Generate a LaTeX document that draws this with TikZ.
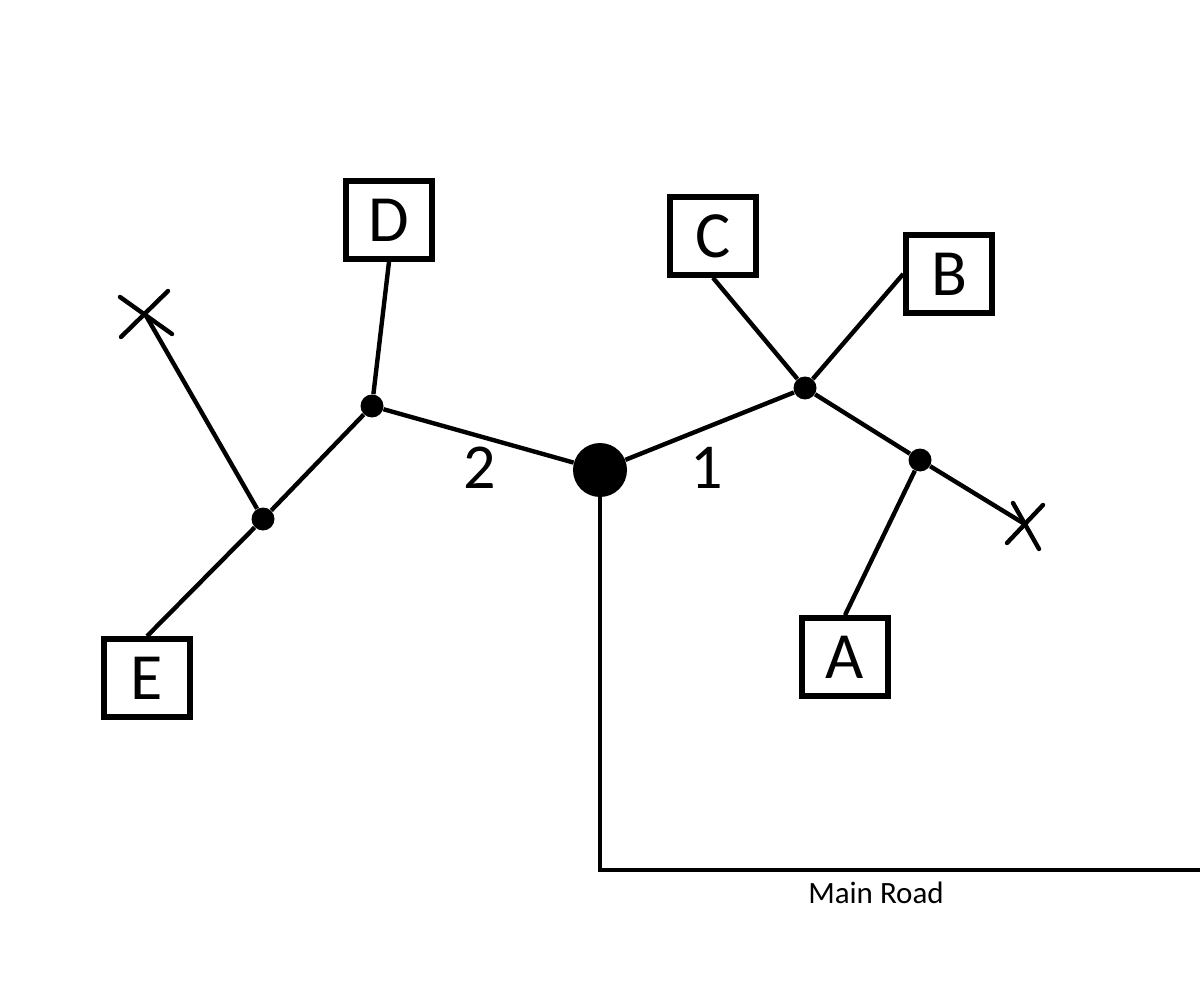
\documentclass[tikz,border=0pt]{standalone}
\usepackage{fontspec}
\setmainfont{Carlito}
\begin{document}
\begin{tikzpicture}[x=0.5pt,y=-0.5pt,
  road/.style={line width=2.2pt},
  box/.style={draw,line width=2.8pt,minimum width=43pt,minimum height=39pt,inner sep=0pt,font=\fontsize{33}{38}\selectfont},
  junction/.style={circle,fill=black,inner sep=0pt,minimum size=11.5pt},
  hub/.style={circle,fill=black,inner sep=0pt,minimum size=27pt},
  numlabel/.style={font=\fontsize{32}{36}\selectfont},
  xmark/.style={line width=2.2pt,line cap=round}]
\useasboundingbox (0,0) rectangle (1200,1000);
% nodes
\node[hub] (hub) at (600,470) {};
\node[junction] (j1) at (805,388) {};
\node[junction] (j2) at (920,460) {};
\node[junction] (j3) at (372,406) {};
\node[junction] (j4) at (263,519) {};
\node[box] (C) at (713,236) {C};
\node[box] (B) at (949,274) {B};
\node[box] (D) at (389,220) {D};
\node[box] (E) at (147,678) {E};
\node[box] (A) at (845,657) {A};
\coordinate (x1) at (145,314);
\coordinate (x2) at (1023,523);
\coordinate (corner) at (600,870);
\coordinate (roadend) at (1200,870);
% connectors
\draw[road] (hub) -- (j1);
\draw[road] (j1) -- (C.south);
\draw[road] (j1) -- (B.west);
\draw[road] (j1) -- (j2) -- (x2);
\draw[road] (j2) -- (A.north);
\draw[road] (hub) -- (j3);
\draw[road] (j3) -- (D.south);
\draw[road] (j3) -- (j4) -- (E.north);
\draw[road] (j4) -- (x1);
\draw[road] (hub.south) -- (corner) -- (roadend);
% X marks
\draw[xmark] (120,297) -- (172,334);
\draw[xmark] (121,337) -- (168,291);
\draw[xmark] (1013,503) -- (1039,549);
\draw[xmark] (1007,543) -- (1043,505);
% labels
\node[numlabel] (l1) at (707,468) {1};
\node[numlabel] (l2) at (480,468) {2};
\node[font=\fontsize{15.5}{18}\selectfont] (mr) at (876,893) {Main Road};
\end{tikzpicture}
\end{document}
